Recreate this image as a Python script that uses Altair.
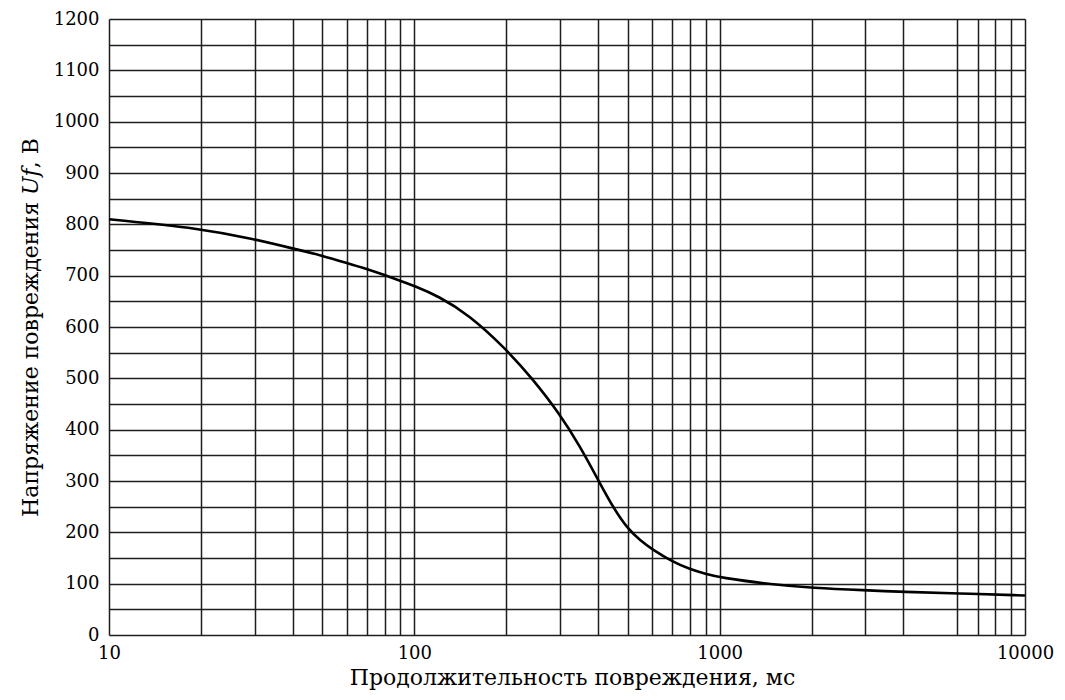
import altair as alt
import pandas as pd

# Curve values
duration_ms = [10, 20, 30, 40, 50, 60, 70, 80, 90, 100, 120, 150, 200,
               243, 300, 350, 400, 450, 500, 550, 600, 700, 800, 900,
               1000, 1500, 2000, 3000, 4000, 6000, 10000]
voltage_v = [810, 792, 771, 753, 739, 725, 713, 701, 690, 680, 660, 625, 557,
             500, 430, 366, 302, 246, 207, 184, 167, 143, 128, 119,
             112, 98, 92, 87, 84, 81, 77]

# Grid / tick positions
x_grid = [10, 20, 30, 40, 50, 60, 70, 80, 90,
          100, 200, 300, 400, 500, 600, 700, 800, 900,
          1000, 2000, 3000, 4000, 6000, 7000, 8000, 9000, 10000]
x_labels = [10, 100, 1000, 10000]
y_grid = list(range(0, 1201, 50))

df = pd.DataFrame({"t": duration_ms, "u": voltage_v})

FONT = "DejaVu Serif"

x_label_expr = "indexof([" + ",".join(str(v) for v in x_labels) + "], datum.value) >= 0 ? datum.label : ''"

chart = alt.Chart(df).mark_line(color="black", strokeWidth=2.6, interpolate="basis").encode(
    x=alt.X("t:Q",
            scale=alt.Scale(type="log", domain=[10, 10000], nice=False),
            axis=alt.Axis(values=x_grid, format="d", labelExpr=x_label_expr,
                          ticks=False, tickSize=0, domain=False, grid=True,
                          gridColor="#1e1e1e", gridWidth=1.5,
                          labelOverlap=False, labelFlush=False, labelPadding=9,
                          labelFont=FONT, labelFontSize=18, labelColor="black",
                          title="Продолжительность повреждения, мс",
                          titleFont=FONT, titleFontSize=22, titleFontWeight="normal",
                          titleColor="black", titleX=463, titleY=49,
                          titleAlign="center", titleBaseline="alphabetic")),
    y=alt.Y("u:Q",
            scale=alt.Scale(domain=[0, 1200], nice=False),
            axis=alt.Axis(values=y_grid, format="d",
                          labelExpr="datum.value % 100 == 0 ? datum.label : ''",
                          ticks=False, tickSize=0, domain=False, grid=True,
                          gridColor="#1e1e1e", gridWidth=1.5,
                          labelOverlap=False, labelFlush=False, labelPadding=10,
                          labelFont=FONT, labelFontSize=18, labelColor="black",
                          title="Напряжение повреждения 𝑈𝑓, В",
                          titleFont=FONT, titleFontSize=22, titleFontWeight="normal",
                          titleColor="black", titleX=-72, titleY=308, titleAngle=270,
                          titleAlign="center", titleBaseline="alphabetic")),
).properties(
    width=916, height=616,
    autosize=alt.AutoSizeParams(type="none"),
    padding={"left": 109, "top": 19, "right": 40, "bottom": 65},
).configure_view(
    stroke="black", strokeWidth=1.6
).configure(background="white")

chart.save("out.html", embed_options={"renderer": "svg", "actions": False})
